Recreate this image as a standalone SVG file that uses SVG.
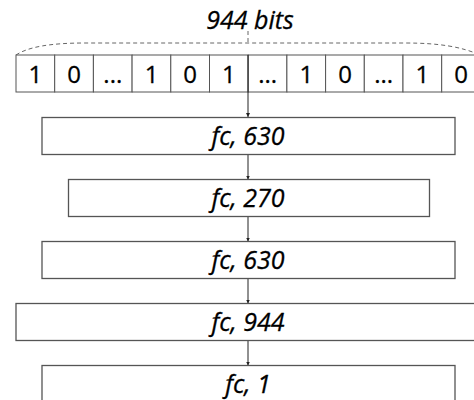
<svg xmlns="http://www.w3.org/2000/svg" width="474" height="400" viewBox="0 0 474 400">
<defs>
<style>
.box{fill:#fff;stroke:#555;stroke-width:1.3}
.cell{fill:#fff;stroke:#555;stroke-width:1}
.lbl{font-family:"Open Sans","Liberation Sans",Arial,sans-serif;font-style:italic;font-size:25px;fill:#000;stroke:#000;stroke-width:0.3;text-anchor:middle}
.bit{font-family:"Open Sans","Liberation Sans",Arial,sans-serif;font-size:24px;fill:#000;stroke:#000;stroke-width:0.3;text-anchor:middle}
.conn{stroke:#222;stroke-width:1;fill:none}
.dash{stroke:#666;stroke-width:1;fill:none;stroke-dasharray:4 3}
</style>
<marker id="ah" viewBox="0 0 6 6" refX="6" refY="3" markerWidth="4" markerHeight="4" orient="auto" markerUnits="userSpaceOnUse">
<path d="M0,0 L6,3 L0,6 z" fill="#222"/>
</marker>
</defs>
<rect width="474" height="400" fill="#fff"/>
<g id="bits-label">
<path class="dash" d="M16,55 C28,47 50,43 85,43 L405,43 C440,43 462,47 480,55"/>
<line class="dash" x1="248" y1="31" x2="248" y2="43" stroke-dasharray="2 2"/>
<text class="lbl" x="250" y="29" font-size="22">944 bits</text>
</g>
<g id="bits">
<rect class="cell" x="16" y="55" width="38.7" height="37"/>
<rect class="cell" x="54.7" y="55" width="38.7" height="37"/>
<rect class="cell" x="93.4" y="55" width="38.7" height="37"/>
<rect class="cell" x="132.1" y="55" width="38.7" height="37"/>
<rect class="cell" x="170.8" y="55" width="38.7" height="37"/>
<rect class="cell" x="209.5" y="55" width="38.7" height="37"/>
<rect class="cell" x="248.2" y="55" width="38.7" height="37"/>
<rect class="cell" x="286.9" y="55" width="38.7" height="37"/>
<rect class="cell" x="325.6" y="55" width="38.7" height="37"/>
<rect class="cell" x="364.3" y="55" width="38.7" height="37"/>
<rect class="cell" x="403" y="55" width="38.7" height="37"/>
<rect class="cell" x="441.7" y="55" width="38.7" height="37"/>
<text class="bit" x="35.4" y="83">1</text>
<text class="bit" x="74.1" y="83">0</text>
<text class="bit" x="112.8" y="83">...</text>
<text class="bit" x="151.5" y="83">1</text>
<text class="bit" x="190.2" y="83">0</text>
<text class="bit" x="228.9" y="83">1</text>
<text class="bit" x="267.6" y="83">...</text>
<text class="bit" x="306.3" y="83">1</text>
<text class="bit" x="345" y="83">0</text>
<text class="bit" x="383.7" y="83">...</text>
<text class="bit" x="422.4" y="83">1</text>
<text class="bit" x="461.1" y="83">0</text>
</g>
<g id="connectors">
<line class="conn" x1="248" y1="55" x2="248" y2="117" marker-end="url(#ah)"/>
<line class="conn" x1="248" y1="154" x2="248" y2="179.5" marker-end="url(#ah)"/>
<line class="conn" x1="248" y1="216.5" x2="248" y2="241.5" marker-end="url(#ah)"/>
<line class="conn" x1="248" y1="278.5" x2="248" y2="303.5" marker-end="url(#ah)"/>
<line class="conn" x1="248" y1="340.5" x2="248" y2="365.5" marker-end="url(#ah)"/>
</g>
<g id="fc1">
<rect class="box" x="42" y="117.5" width="413" height="37"/>
<text class="lbl" x="248" y="145">fc, 630</text>
</g>
<g id="fc2">
<rect class="box" x="68.5" y="179.5" width="361" height="37"/>
<text class="lbl" x="248" y="207">fc, 270</text>
</g>
<g id="fc3">
<rect class="box" x="42" y="241.5" width="413" height="37"/>
<text class="lbl" x="248" y="269">fc, 630</text>
</g>
<g id="fc4">
<rect class="box" x="16" y="303.5" width="466" height="37"/>
<text class="lbl" x="248" y="331">fc, 944</text>
</g>
<g id="fc5">
<rect class="box" x="42" y="365.5" width="413" height="40"/>
<text class="lbl" x="248" y="393">fc, 1</text>
</g>
</svg>
